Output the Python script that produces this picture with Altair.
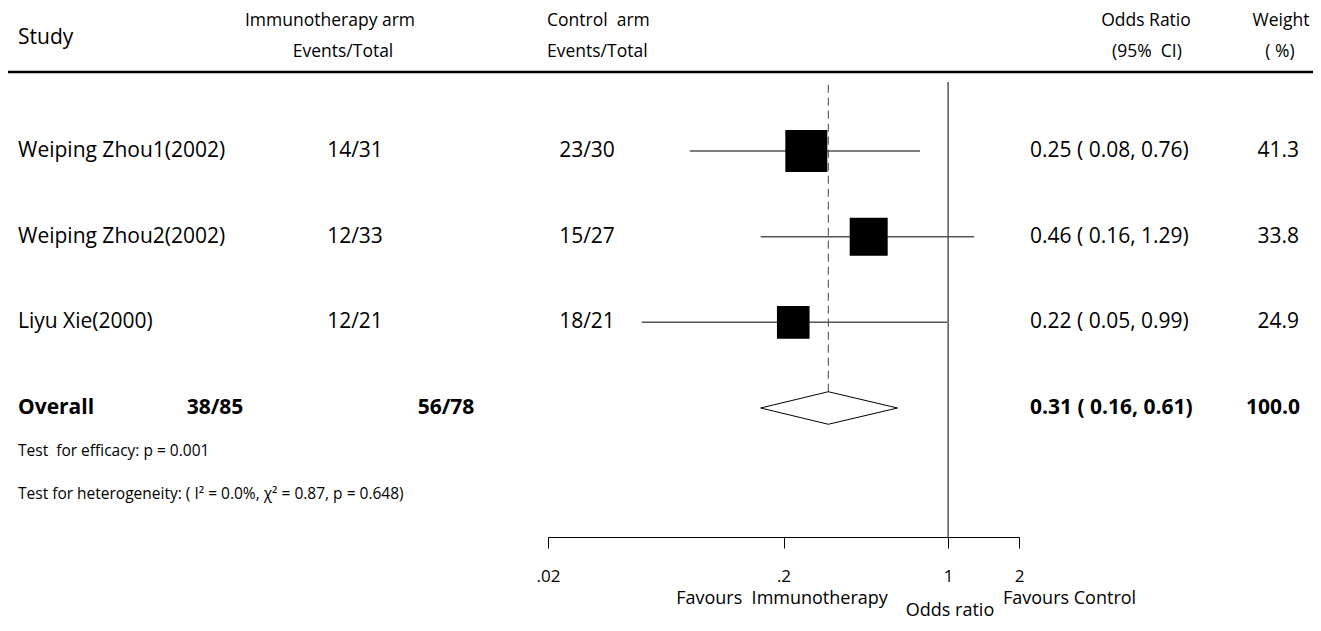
import altair as alt
import pandas as pd

# ---------------- data ----------------
studies = ["Weiping Zhou1(2002)", "Weiping Zhou2(2002)", "Liyu Xie(2000)"]
immuno = ["14/31", "12/33", "12/21"]
control = ["23/30", "15/27", "18/21"]
or_est = [0.25, 0.46, 0.22]
ci_lo = [0.08, 0.16, 0.05]
ci_hi = [0.76, 1.29, 0.99]
weights = [41.3, 33.8, 24.9]

overall_label = "Overall"
overall_immuno = "38/85"
overall_control = "56/78"
overall_est = 0.31
overall_lo = 0.16
overall_hi = 0.61
overall_weight = 100.0

tick_values = [0.02, 0.2, 1, 2]
tick_labels = [".02", ".2", "1", "2"]

NB = "\u00a0"
efficacy_text = f"Test {NB}for efficacy: p = 0.001"
hetero_text = "Test for heterogeneity: ( I\u00b2 = 0.0%, \u03c7\u00b2 = 0.87, p = 0.648)"

FONT = "Open Sans"
ROW_FS = 21
HDR_FS = 17.5
W = 1305

rows = [1, 2, 3]
overall_row = 4
diamond_half = 0.19

df = pd.DataFrame({
    "study": studies, "immuno": immuno, "control": control,
    "est": or_est, "lo": ci_lo, "hi": ci_hi, "weight": weights, "row": rows,
})
df["ortext"] = [f"{e:.2f} ({NB}{l:.2f}, {h:.2f})" for e, l, h in zip(or_est, ci_lo, ci_hi)]
df["wtext"] = [f"{w:.1f}" for w in weights]

ov = pd.DataFrame({
    "label": [overall_label], "immuno": [overall_immuno], "control": [overall_control],
    "est": [overall_est], "lo": [overall_lo], "hi": [overall_hi],
    "row": [overall_row], "top": [overall_row - diamond_half],
    "ortext": [f"{overall_est:.2f} ({NB}{overall_lo:.2f}, {overall_hi:.2f})"],
    "wtext": [f"{overall_weight:.1f}"],
})

dia = pd.DataFrame({
    "x": [overall_lo, overall_est, overall_hi, overall_est, overall_lo],
    "y": [overall_row, overall_row - diamond_half, overall_row, overall_row + diamond_half, overall_row],
    "o": [0, 1, 2, 3, 4],
})

ref_df = pd.DataFrame({"v": [1]})

label_expr = " : ".join(
    f"datum.value == {v} ? '{l}'" for v, l in zip(tick_values, tick_labels)
) + " : datum.label"

xscale = alt.Scale(type="log", domain=[0.02, 2], range=[540, 1011], nice=False)
xaxis = alt.Axis(values=tick_values, labelExpr=label_expr, title=None, grid=False,
                 tickSize=11, tickColor="black", domainColor="black", labelColor="black",
                 labelFontSize=17, labelFont=FONT, labelPadding=20, labelFlush=False,
                 labelOverlap=False, domainWidth=1, tickWidth=1)
yscale = alt.Scale(domain=[1, 4], range=[143, 400], nice=False, zero=False)


def X(field):
    return alt.X(field, type="quantitative", scale=xscale, axis=xaxis)


def Y(field):
    return alt.Y(field, type="quantitative", scale=yscale, axis=None)


def label(txt, x, y, size=HDR_FS, align="left", weight="normal", baseline="middle"):
    return alt.Chart(pd.DataFrame({"t": [txt]})).mark_text(
        align=align, baseline=baseline, fontSize=size, font=FONT, fontWeight=weight,
        color="black"
    ).encode(x=alt.value(x), y=alt.value(y), text="t:N")


layers = []

# top rule
layers.append(alt.Chart(pd.DataFrame({"a": [0]})).mark_rule(color="black", strokeWidth=2.5)
              .encode(x=alt.value(0), x2=alt.value(W), y=alt.value(64)))

# headers
layers += [
    label("Study", 10, 30, size=ROW_FS),
    label("Immunotherapy arm", 322, 13, align="center"),
    label("Events/Total", 335, 44, align="center"),
    label(f"Control {NB}arm", 539, 13),
    label("Events/Total", 539, 44),
    label("Odds Ratio", 1138, 13, align="center"),
    label(f"(95% {NB}CI)", 1139, 44, align="center"),
    label("Weight", 1273, 13, align="center"),
    label(f"({NB}%)", 1272, 44, align="center"),
]

# reference line at OR = 1
layers.append(alt.Chart(ref_df).mark_rule(color="black", strokeWidth=1)
              .encode(x=X("v"), y=alt.value(74), y2=alt.value(529)))
# dashed line at overall estimate
layers.append(alt.Chart(ov).mark_rule(color="#444", strokeWidth=1, strokeDash=[8, 5])
              .encode(x=X("est"), y=Y("top"), y2=alt.value(74)))

# CI lines
layers.append(alt.Chart(df).mark_rule(color="#555", strokeWidth=1.5)
              .encode(x=X("lo"), x2="hi", y=Y("row")))
# squares
layers.append(alt.Chart(df).mark_square(color="black", opacity=1, filled=True)
              .encode(x=X("est"), y=Y("row"),
                      size=alt.Size("weight:Q", scale=alt.Scale(domain=[0, 100], range=[0, 4270]),
                                    legend=None)))
# diamond
layers.append(alt.Chart(dia).mark_line(color="black", strokeWidth=1)
              .encode(x=X("x"), y=Y("y"), order="o:Q"))


# row texts
def coltext(data, field, x, align, weight="normal"):
    return alt.Chart(data).mark_text(align=align, baseline="middle", fontSize=ROW_FS, font=FONT,
                                     fontWeight=weight, color="black").encode(
        x=alt.value(x), y=Y("row"), text=f"{field}:N")


layers += [
    coltext(df, "study", 10, "left"),
    coltext(df, "immuno", 347, "center"),
    coltext(df, "control", 579, "center"),
    coltext(df, "ortext", 1022, "left"),
    coltext(df, "wtext", 1291, "right"),
    coltext(ov, "label", 10, "left", "bold"),
    coltext(ov, "immuno", 207, "center", "bold"),
    coltext(ov, "control", 438, "center", "bold"),
    coltext(ov, "ortext", 1022, "left", "bold"),
    coltext(ov, "wtext", 1292, "right", "bold"),
]

layers += [
    label(efficacy_text, 10, 443, size=15.5),
    label(hetero_text, 10, 486, size=15.5),
    label(f"Favours {NB}Immunotherapy", 774, 591, size=18, align="center"),
    label("Favours Control", 995, 591, size=18),
    label("Odds ratio", 942, 603, size=18, align="center"),
]

chart = alt.layer(*layers).properties(
    width=W, height=529,
    padding={"left": 0, "right": 0, "top": 0, "bottom": 85},
    autosize=alt.AutoSizeParams(type="none"),
).configure_view(stroke=None)

chart.save("out.html", embed_options={"renderer": "svg", "actions": False})
